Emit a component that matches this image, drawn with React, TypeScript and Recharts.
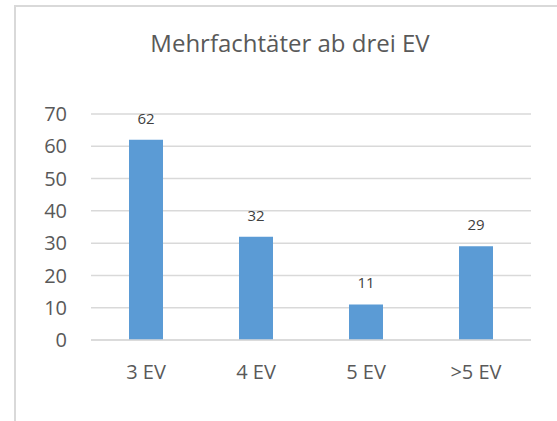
import { BarChart, Bar, XAxis, YAxis, CartesianGrid, LabelList } from 'recharts'

// ─── Data ──────────────────────────────────────────────────────────────────────

const categories = ['3 EV', '4 EV', '5 EV', '>5 EV']
const counts = [62, 32, 11, 29]
const yTicks = [0, 10, 20, 30, 40, 50, 60, 70]

const data = categories.map((name, i) => ({ name, value: counts[i] }))

const FONT = '"Open Sans", "Noto Sans", sans-serif'
const GRID = '#d9d9d9'
const TEXT = '#595959'

// ─── Component ─────────────────────────────────────────────────────────────────

export default function App() {
  return (
    <div
      style={{
        position: 'fixed',
        left: 0,
        top: 0,
        width: 557,
        height: 421,
        overflow: 'hidden',
        background: '#fff',
        fontFamily: FONT,
      }}
    >
      {/* chart frame, cut off at right and bottom */}
      <div
        style={{
          position: 'absolute',
          left: 14,
          top: 5,
          width: 700,
          height: 600,
          border: `2px solid ${GRID}`,
          boxSizing: 'border-box',
        }}
      />
      <div
        style={{
          position: 'absolute',
          left: 0,
          width: 580,
          top: 27,
          textAlign: 'center',
          fontSize: 24,
          lineHeight: '32px',
          color: TEXT,
        }}
      >
        Mehrfachtäter ab drei EV
      </div>
      <div style={{ position: 'absolute', left: 0, top: 0 }}>
        <BarChart
          width={557}
          height={421}
          data={data}
          margin={{ top: 114, right: 26, left: 0, bottom: 51 }}
        >
          <CartesianGrid vertical={false} stroke={GRID} strokeWidth={1.5} />
          <XAxis
            dataKey="name"
            height={30}
            axisLine={{ stroke: GRID, strokeWidth: 1.5 }}
            tickLine={false}
            tickSize={0}
            tickMargin={25}
            tick={{ fontSize: 20, fill: TEXT, fontFamily: FONT }}
          />
          <YAxis
            width={91}
            domain={[0, 70]}
            ticks={yTicks}
            axisLine={false}
            tickLine={false}
            tickSize={0}
            tickMargin={24}
            tick={{ fontSize: 20, fill: TEXT, fontFamily: FONT }}
          />
          <Bar dataKey="value" fill="#5b9bd5" barSize={34} isAnimationActive={false}>
            <LabelList
              dataKey="value"
              position="top"
              offset={16}
              style={{ fontSize: 15, fill: '#404040', fontFamily: FONT }}
            />
          </Bar>
        </BarChart>
      </div>
    </div>
  )
}
